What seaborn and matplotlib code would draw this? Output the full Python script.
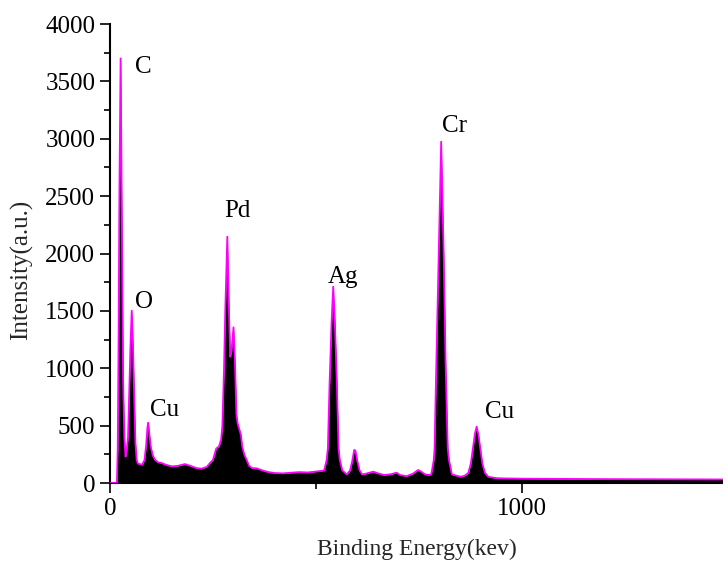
import matplotlib
matplotlib.use("Agg")
import matplotlib.pyplot as plt
import seaborn as sns
import pandas as pd
from matplotlib.ticker import MultipleLocator

# ---- data ----
energy = [0, 17, 19, 21, 23, 26, 29, 32, 35, 38,
          40, 44, 47, 50, 53, 56, 59, 62, 65, 68,
          72, 78, 84, 88, 91, 93, 96, 99, 104, 110, 117,
          125, 135, 150, 165, 182, 195, 210, 222, 235, 243, 250,
          258, 265, 270, 273, 277, 280, 285, 289, 292, 295, 300, 304, 307, 310,
          314, 318, 321, 326, 332, 338, 345, 356, 370, 385, 400, 420, 440, 460,
          480, 500, 512,
          520, 526, 529, 533, 538, 542, 546, 551, 555, 558, 564,
          575, 583, 588, 593, 596, 600, 606, 612,
          620, 630, 639, 650, 665, 680, 696, 704, 720, 735, 748, 755, 765, 775,
          780, 786, 788, 792, 798, 804, 810, 815, 820, 823, 830,
          840, 850, 858, 864, 870, 876, 881, 886, 890, 894, 899, 904, 910, 918,
          925, 940, 960, 1000, 1050, 1100, 1200, 1300, 1400, 1488]
intensity = [0, 0, 300, 1200, 2500, 3700, 2300, 900, 400, 230,
             260, 400, 800, 1200, 1502, 1200, 750, 350, 200, 170,
             165, 160, 200, 330, 480, 525, 420, 320, 240, 200, 180,
             175, 160, 145, 150, 165, 150, 130, 125, 140, 175, 200,
             300, 320, 380, 500, 1000, 1500, 2147, 1500, 1100, 1150, 1357, 1000, 600, 520,
             470, 420, 320, 250, 200, 150, 130, 128, 110, 95, 87, 84, 90, 95,
             92, 100, 105,
             110, 200, 300, 850, 1400, 1711, 1400, 850, 300, 200, 110,
             75, 110, 190, 288, 280, 200, 110, 75,
             80, 90, 99, 85, 70, 75, 90, 70, 60, 80, 113, 100, 75, 70,
             75, 200, 300, 1000, 2000, 2975, 2000, 1000, 300, 200, 75,
             65, 55, 60, 70, 90, 170, 300, 430, 491, 430, 300, 170, 90, 55,
             50, 42, 40, 38, 37, 36, 34, 33, 32, 31]

peak_labels = ["C", "O", "Cu", "Pd", "Ag", "Cr", "Cu"]
label_x = [61, 61, 97, 277, 529, 806, 910]
label_y = [3625, 1577, 636, 2370, 1795, 3111, 619]

x_ticks = [0, 1000]
y_ticks = [0, 500, 1000, 1500, 2000, 2500, 3000, 3500, 4000]

df = pd.DataFrame({"energy": energy, "intensity": intensity})

sns.set_theme(style="ticks")
plt.rcParams["font.family"] = ["Liberation Serif", "DejaVu Serif"]

fig = plt.figure(figsize=(7.23, 5.65), dpi=100)
ax = fig.add_axes([0.152, 0.1451, 0.848, 0.8124])

ax.fill_between(df["energy"], 0, df["intensity"], color="black", lw=0, zorder=2)
sns.lineplot(data=df, x="energy", y="intensity", ax=ax, color="#ff00ff",
             lw=1.3, zorder=3, sort=False)

for lab, lx, ly in zip(peak_labels, label_x, label_y):
    ax.text(lx, ly, lab, fontsize=18, ha="left", va="center", color="black")

ax.set_xlim(0, 1488)
ax.set_ylim(0, 4000)
ax.set_xticks(x_ticks)
ax.set_yticks(y_ticks)
ax.xaxis.set_minor_locator(MultipleLocator(500))
ax.yaxis.set_minor_locator(MultipleLocator(250))
ax.tick_params(axis="both", which="major", direction="out", length=7, width=1.2,
               labelsize=18, color="black", labelcolor="black")
ax.tick_params(axis="both", which="minor", direction="out", length=4, width=1.2,
               color="black")
ax.tick_params(axis="x", which="major", pad=4)
for s in ["top", "right"]:
    ax.spines[s].set_visible(False)
for s in ["left", "bottom"]:
    ax.spines[s].set_linewidth(1.5)
    ax.spines[s].set_color("black")

ax.set_xlabel("Binding Energy(kev)", fontsize=17, labelpad=13)
ax.set_ylabel("Intensity(a.u.)", fontsize=18)
ax.yaxis.set_label_coords(-0.125, 0.464)

fig.savefig("out.png", dpi=100)
